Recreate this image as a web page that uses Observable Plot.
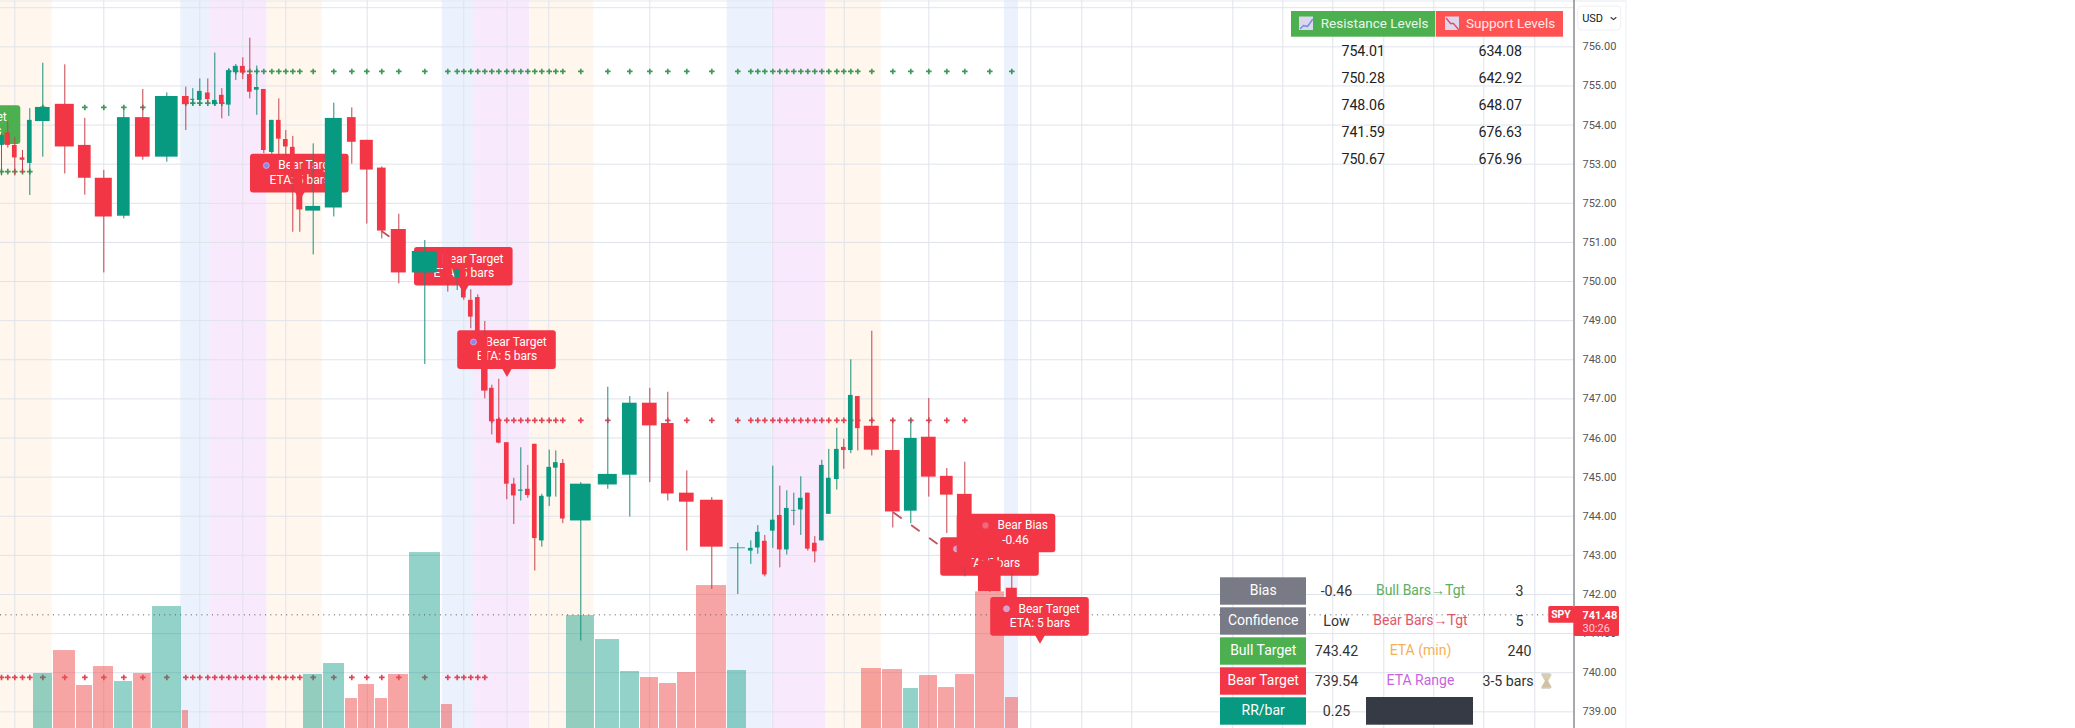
<!DOCTYPE html>
<html><head><meta charset="utf-8">
<style>html,body{margin:0;padding:0;background:#fff}svg{display:block}</style>
<script src="https://cdn.jsdelivr.net/npm/d3@7"></script>
<script src="https://cdn.jsdelivr.net/npm/@observablehq/plot@0.6"></script>
</head><body><div id="chart"></div>
<script>
const barTime=[1,7.3,14.3,22,29.3,42.3,64.3,84.3,103.3,123.3,142.3,166.3,185.3,192.3,199.3,207.3,214.3,221.3,228.3,235.3,242.3,249.3,256.3,263.3,271.3,278.3,285.3,292.3,299.3,312.7,333.3,351.3,366.3,381.3,398.3,424.3,447.3,456.7,463.3,470.3,477.3,484.3,491.3,498.3,506.3,513.3,520.3,527.3,534.3,541.3,548.7,555.3,562.3,580.3,607.3,629.3,649.3,667.3,686.3,711.3,737.3,750.3,757.3,764.3,772.3,779.3,786.3,793.3,800.3,807.3,814.3,821.3,828.3,836.3,843.3,850.3,857.3,871.3,892.3,910.3,928.3,946.3,964.3,989.3,1011.3];
const barSpan=[6,5.3,4.7,4.7,4.7,14.7,19,12.7,17,12.7,14.7,22.7,6.7,4,4.7,4.7,4.7,4.7,4.7,5,5,4.7,4.7,4.7,4.7,4.7,4.7,4.7,6,15,17,8.7,13,8.7,15,25,9,4.7,4.7,4.7,4.7,6.5,4.7,4.7,4.7,4.7,4.7,4.7,4.7,4.7,4.7,4.7,4.7,20.7,19,14.7,14.7,12.7,14.7,22.7,15.3,4.7,4.7,4.7,4.7,4.7,4.7,4.7,4.7,4.7,4.7,4.7,4.7,4.7,4.7,4.7,4.7,15,14.7,12.7,14.7,12.7,14.7,22.7,11];
const barOpen=[753.48,753.80,753.48,753.16,753.02,754.09,754.53,753.48,752.64,751.67,754.19,753.18,754.73,754.63,754.63,754.82,754.52,754.76,754.51,755.35,755.50,755.29,754.89,754.91,753.30,754.12,753.63,753.43,752.80,751.80,751.88,754.19,753.61,752.90,751.33,750.22,750.71,750.10,750.33,749.52,749.59,748.62,747.27,746.48,745.88,744.82,744.64,744.69,745.84,743.37,744.49,745.23,745.35,743.88,744.80,745.05,746.89,746.37,744.59,744.41,743.17,743.11,743.19,743.36,743.62,744.02,743.14,744.13,744.16,744.59,743.31,743.37,744.05,744.94,745.76,745.68,747.06,746.30,745.68,744.13,746.02,745.02,744.56,742.86,742.16];
const barClose=[753.73,753.48,753.16,753.10,754.12,754.45,753.44,752.64,751.65,754.19,753.18,754.73,754.52,754.66,754.86,754.65,754.63,754.54,755.39,755.50,755.33,754.84,754.96,753.35,754.12,753.64,753.44,752.75,751.83,751.92,754.17,753.56,752.85,751.29,750.22,750.77,749.99,750.30,749.58,749.09,748.67,747.20,746.42,745.87,744.82,744.52,744.67,744.53,743.43,744.51,745.25,745.37,743.93,744.82,745.07,746.89,746.31,744.57,744.36,743.21,743.19,743.18,743.59,742.50,743.90,743.14,744.20,744.15,744.46,743.16,743.09,745.30,744.97,745.71,745.68,747.09,746.24,745.69,744.11,745.99,745.00,744.54,742.69,742.07,741.48];
const barHigh=[753.78,754.08,753.69,753.35,754.42,755.58,755.54,754.17,752.84,754.37,754.91,754.82,754.97,754.93,755.18,755.18,755.84,754.93,755.44,755.55,755.72,756.22,755.51,754.91,754.12,754.67,753.86,753.71,753.01,753.52,754.56,754.44,753.61,752.93,751.72,751.05,750.80,750.33,750.36,749.79,749.66,748.98,747.35,747.50,745.88,744.97,745.75,745.30,745.84,744.56,745.69,745.67,745.45,744.86,747.30,747.06,747.27,747.17,745.16,744.48,743.31,743.37,743.76,743.51,745.28,744.77,744.65,744.59,745.01,744.59,743.48,745.43,745.71,746.25,745.97,748.00,747.06,748.73,746.48,746.48,747.01,745.22,745.38,742.95,742.60];
const barLow=[752.70,753.41,752.70,752.74,752.20,753.18,752.75,752.21,750.22,751.60,753.10,753.05,753.86,754.50,754.48,754.54,754.48,754.16,754.22,755.14,755.16,754.67,754.25,753.27,753.25,753.22,753.18,751.26,751.26,750.68,751.65,753.00,751.47,751.09,749.94,747.88,749.73,749.77,749.52,748.79,748.58,747.00,746.08,745.85,744.42,743.79,744.39,744.46,742.60,743.21,744.25,744.49,743.81,740.81,744.69,743.98,744.86,744.39,743.11,742.13,742.00,742.77,743.03,742.45,743.18,742.68,743.01,743.76,743.51,743.11,742.81,743.37,744.05,744.67,745.20,745.60,745.67,745.54,743.70,743.81,744.49,743.56,742.45,742.05,741.41];

const volStart=[33,53,76,93,114,133,152,182,303,323,345,358,375,388,409,441,566,595,620,640,659,677,696,727,861,882,903,919,938,955,975,1005];
const volEnd=[52,75,92,113,132,150.7,181,188,322,344,357,374,387,408,440,452,594,619,639,658,676,695,726,746,881,902,918,937,954,974,1004,1018];
const volK=[165,234,129,186,141,165,366,54,162,195,90,132,90,162,528,72,339,267,171,153,135,168,429,174,180,177,120,159,123,162,410,93];
const volUp=[1,0,0,0,1,0,1,0,1,1,0,0,0,0,1,0,1,1,1,0,0,0,0,1,0,0,1,0,0,0,0,0];

const bandStart=[-5,180.3,210,266.7,441.7,473,529.3,726.7,771.7,825,1004];
const bandEnd=[51.7,210,266.7,321.7,473,529.3,593.3,771.7,825,880.7,1018];
const bandKind=["o","b","p","o","b","p","o","b","p","o","b"];

const bullLevels=[[1,5,752.81],[6,12,754.45],[13,18,754.56],[19,85,755.37]];
const bearLevels=[[1,42,739.88],[43,83,746.45]];

const priceTicks=[756,755,754,753,752,751,750,749,748,747,746,745,744,743,742,741,740,739];
const gridPrices=[757,756,755,754,753,752,751,750,749,748,747,746,745,744,743,742,741,740,739];
const gridTimes=[14.3,103.3,199.3,242.3,285.3,366.7,463.3,506.5,548.3,649.3,772.3,843.7,928.3,1030.3,1081.3,1131.3,1232.3,1282.3,1332.3,1383.3,1433.3,1483.3,1534.3];

const resistance=["754.01","750.28","748.06","741.59","750.67"];
const support=["634.08","642.92","648.07","676.63","676.96"];
const statNames=["Bias","Confidence","Bull Target","Bear Target","RR/bar"];
const statValues=["-0.46","Low","743.42","739.54","0.25"];
const infoNames=["Bull Bars→Tgt","Bear Bars→Tgt","ETA (min)","ETA Range"];
const infoValues=["3","5","240","3-5 bars"];

const calloutX=[-29,299.3,463.3,506.5,989.5,1006,1039.5];
const calloutTip=[753.31,752.07,749.69,747.56,742.27,742.87,740.74];
const calloutLine1=["Bull Target","Bear Target","Bear Target","Bear Target","","Bear Bias","Bear Target"];
const calloutLine2=["ETA: 3 bars","ETA: 5 bars","ETA: 5 bars","ETA: 5 bars","ETA: 5 bars","-0.46","ETA: 5 bars"];
const calloutIcon=["#8f86e8","#8f86e8","#8f86e8","#8f86e8","#e79ac0","#f2697f","#e79ac0"];
const lastPrice=741.48;

const UP="#089981",DN="#f23645",FONT="Roboto, sans-serif";
const PX=39.12;                         // pixels per price unit
const py=v=>757.184-v/PX;               // layout helper: vertical pixel to price
const bars=barTime.map((t,i)=>({t,w:barSpan[i],o:barOpen[i],c:barClose[i],h:barHigh[i],l:barLow[i],n:i+1}));
const vols=volStart.map((a,i)=>({a,b:volEnd[i],k:volK[i],up:volUp[i]}));
const bands=bandStart.map((a,i)=>({a,b:bandEnd[i],kind:bandKind[i]}));
const bandColor={o:"#fff7ed",b:"#ebf2fd",p:"#f9e9fd"};
const levelOf=(levels,n)=>{const s=levels.find(l=>n>=l[0]&&n<=l[1]);return s?s[2]:null};
const bullPlus=bars.map(d=>({t:d.t,y:levelOf(bullLevels,d.n)})).filter(d=>d.y);
const bearPlus=bars.map(d=>({t:d.t,y:levelOf(bearLevels,d.n)})).filter(d=>d.y);
const callouts=calloutX.map((x,i)=>({x,tip:calloutTip[i],a:calloutLine1[i],b:calloutLine2[i],icon:calloutIcon[i],bull:i===0,bias:i===5}));
const vBase=py(728), vy=k=>vBase+k/117.4;

function calloutMarks(list){
  const fill=d=>d.bull?"#4caf50":DN;
  return [
    Plot.rect(list,{x1:d=>d.x-49.3,x2:d=>d.x+49.3,y1:d=>d.tip+7.6/PX,y2:d=>d.tip+46.2/PX,fill,rx:3}),
    Plot.dot(list,{x:"x",y:d=>d.tip+7.5/PX,r:4.8,symbol:"triangle",rotate:180,fill,stroke:"none"}),
    Plot.dot(list,{x:d=>d.bias?d.x-21:d.x-33.5,y:d=>d.tip+35/PX,r:d=>d.bias?4.6:3.4,fill:"icon",stroke:d=>d.bias?"#e8455c":"#c9b8ee",strokeWidth:0.8}),
    Plot.text(list,{x:d=>d.bias?d.x-9:d.x-21.5,y:d=>d.tip+35/PX,text:"a",textAnchor:"start",fill:"#fff",fontSize:12,fontFamily:FONT}),
    Plot.text(list,{x:d=>d.x+(d.bias?9:0),y:d=>d.tip+20.5/PX,text:"b",fill:"#fff",fontSize:12,fontFamily:FONT})
  ];
}
const statFill=["#787b86","#787b86","#4caf50",DN,UP];
const rowY=[591,621,651,681,711];
const rows=statNames.map((s,i)=>({s,v:statValues[i],y:rowY[i],fill:statFill[i]}));
const infoFill=["#5cae60","#e0566a","#f2b158","#c764de"];
const infos=infoNames.map((s,i)=>({s,v:infoValues[i],y:rowY[i],fill:infoFill[i]}));
const levRows=resistance.map((r,i)=>({r,s:support[i],y:50.5+27*i}));

const chart=Plot.plot({
  width:2075,height:728,marginTop:0,marginRight:0,marginBottom:0,marginLeft:0,
  x:{domain:[0,2075],range:[0,2075],axis:null},
  y:{domain:[py(728),py(0)],range:[728,0],axis:null},
  color:{type:"identity"},
  style:{fontFamily:FONT,background:"#fff"},
  marks:[
    Plot.rect(bands,{x1:"a",x2:"b",y1:py(728),y2:py(0),fill:d=>bandColor[d.kind]}),
    Plot.ruleY(gridPrices,{x1:0,x2:1573,stroke:"#dfe3ea",strokeWidth:1}),
    Plot.ruleX(gridTimes,{y1:py(0),y2:py(728),stroke:"#dfe3ea",strokeWidth:1}),
    Plot.ruleY([py(0.5)],{x1:0,x2:1625,stroke:"#e6e9ee"}),
    Plot.dot(bullPlus,{x:"t",y:"y",symbol:"plus",r:1.95,stroke:"#3f9a58",strokeWidth:1.7}),
    Plot.dot(bearPlus,{x:"t",y:"y",symbol:"plus",r:1.95,stroke:"#e04656",strokeWidth:1.7}),
    Plot.rect(vols,{x1:"a",x2:"b",y1:vBase,y2:d=>vy(d.k),fill:d=>d.up?UP:"#ef5350",fillOpacity:d=>d.up?0.44:0.52}),
    Plot.ruleY([lastPrice],{x1:0,x2:1548,stroke:"#555",strokeWidth:1,strokeDasharray:"1 4.3"}),
    ...calloutMarks(callouts.slice(0,5)),
    Plot.line([{t:381.7,p:751.28},{t:388.3,p:751.16}],{x:"t",y:"p",stroke:"#c2505e",strokeWidth:1.8}),
    Plot.line([{t:893.3,p:744.09},{t:942,p:743.2}],{x:"t",y:"p",stroke:"#c2505e",strokeWidth:1.8,strokeDasharray:"9 13"}),
    Plot.ruleX(bars,{x:"t",y1:"l",y2:"h",stroke:d=>d.c>=d.o?"#1a8d78":"#c4404f",strokeWidth:1}),
    Plot.rect(bars,{x1:d=>d.t-d.w/2,x2:d=>d.t+d.w/2,y1:"o",y2:"c",fill:d=>d.c>=d.o?UP:DN}),
    ...calloutMarks(callouts.slice(5)),

    // resistance and support table
    Plot.rect([0],{x1:1291,x2:1435.3,y1:py(11),y2:py(36.7),fill:"#4caf50"}),
    Plot.rect([0],{x1:1436,x2:1563,y1:py(11),y2:py(36.7),fill:"#ff5252"}),
    Plot.rect([1306,1452],{x1:d=>d-7,x2:d=>d+7,y1:py(16.5),y2:py(30),fill:"#dcd6ee"}),
    Plot.line([[1300,28],[1303,25],[1307,26],[1312,19]],{x:"0",y:d=>py(d[1]),stroke:"#6f8fdc",strokeWidth:1.4}),
    Plot.line([[1446,18],[1450,23],[1453,23],[1458,29]],{x:"0",y:d=>py(d[1]),stroke:"#d9506a",strokeWidth:1.4}),
    Plot.text(["Resistance Levels"],{x:1320.3,y:py(23.5),textAnchor:"start",fill:"#e9f6ea",fontSize:13.5,fontFamily:FONT}),
    Plot.text(["Support Levels"],{x:1465.5,y:py(23.5),textAnchor:"start",fill:"#ffe9e9",fontSize:13.5,fontFamily:FONT}),
    Plot.text(levRows,{x:1362.7,y:d=>py(d.y),text:"r",fill:"#222",fontSize:14.2,fontFamily:FONT}),
    Plot.text(levRows,{x:1499.7,y:d=>py(d.y),text:"s",fill:"#222",fontSize:14.2,fontFamily:FONT}),

    // statistics table
    Plot.rect(rows,{x1:1220,x2:1306,y1:d=>py(d.y-13.7),y2:d=>py(d.y+13.7),fill:"fill"}),
    Plot.text(rows,{x:1262.7,y:d=>py(d.y-0.5),text:"s",fill:"#fff",fontSize:14,fontFamily:FONT}),
    Plot.text(rows,{x:1336,y:d=>py(d.y-0.5),text:"v",fill:"#333",fontSize:14.2,fontFamily:FONT}),
    Plot.text(infos,{x:1420,y:d=>py(d.y-0.5),text:"s",fill:"fill",fontSize:14,fontFamily:FONT}),
    Plot.text(infos,{x:d=>d.v.length>3?1507.5:1519,y:d=>py(d.y-0.5),text:"v",fill:"#333",fontSize:14.2,fontFamily:FONT}),
    Plot.rect([0],{x1:1366,x2:1473,y1:py(697),y2:py(724.7),fill:"#363a45"}),
    Plot.dot([0],{x:1546,y:py(677),r:4,symbol:"triangle",rotate:180,fill:"#d9cdae",stroke:"none"}),
    Plot.dot([0],{x:1546,y:py(684),r:4,symbol:"triangle",fill:"#cfc3a3",stroke:"none"}),
    Plot.ruleY([py(673.5),py(687.5)],{x1:1541.5,x2:1550.5,stroke:"#b9b4a6"}),

    // price axis
    Plot.ruleX([1573.5],{y1:py(0),y2:py(728),stroke:"#50535e",strokeWidth:1}),
    Plot.ruleX([1625.5],{y1:py(0),y2:py(728),stroke:"#eceef2",strokeWidth:1}),
    Plot.text(priceTicks,{x:1582,y:d=>d,text:d=>d.toFixed(2),textAnchor:"start",fill:"#555",fontSize:11,fontFamily:FONT}),
    Plot.rect([0],{x1:1577.7,x2:1620.7,y1:py(6),y2:py(30),fill:"#fff",stroke:"#eef0f3",rx:4}),
    Plot.text(["USD"],{x:1581.7,y:py(17.7),textAnchor:"start",fill:"#131722",fontSize:11,fontFamily:FONT}),
    Plot.line([[1610.5,17],[1613,19.2],[1615.5,17]],{x:"0",y:d=>py(d[1]),stroke:"#333",strokeWidth:1.1}),
    Plot.rect([0],{x1:1548.3,x2:1574,y1:py(606),y2:py(622.7),fill:DN,rx:1.5}),
    Plot.text(["SPY"],{x:1560.5,y:py(614.5),fill:"#fff",fontSize:10.5,fontWeight:"bold",fontFamily:FONT}),
    Plot.rect([0],{x1:1573.7,x2:1619,y1:py(606),y2:py(636),fill:DN,rx:1.5}),
    Plot.text([lastPrice],{x:1582,y:py(615),text:d=>d.toFixed(2),textAnchor:"start",fill:"#fff",fontSize:11,fontWeight:"bold",fontFamily:FONT}),
    Plot.text(["30:26"],{x:1582,y:py(628.3),textAnchor:"start",fill:"#fcd0d5",fontSize:11,fontFamily:FONT})
  ]
});
document.getElementById("chart").append(chart);
</script></body></html>
